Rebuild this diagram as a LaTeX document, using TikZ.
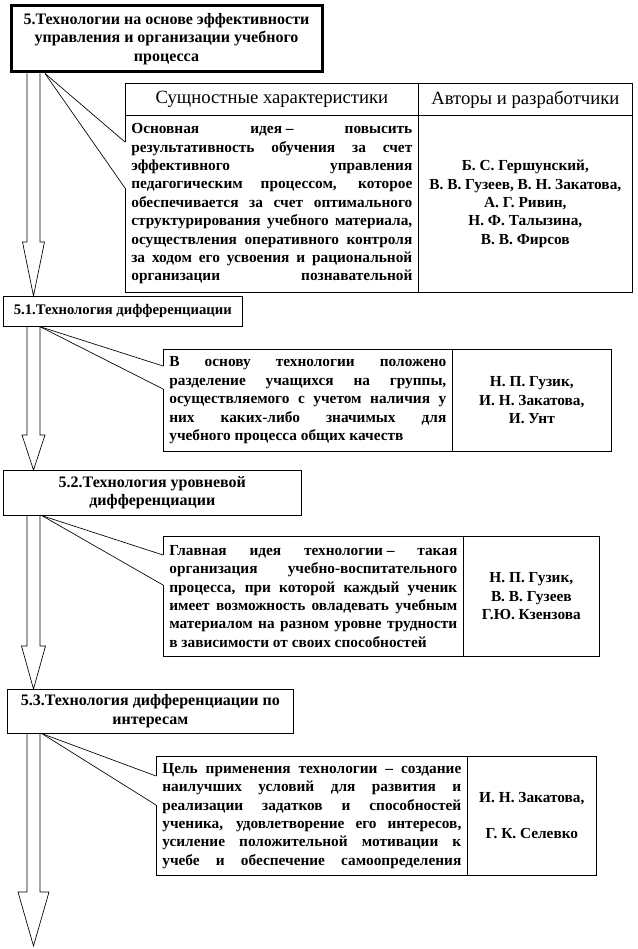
\documentclass[tikz,border=0pt]{standalone}
\usepackage{fontspec}
\setmainfont{Liberation Serif}
\usetikzlibrary{calc}

\begin{document}
\begin{tikzpicture}[x=0.75pt, y=-0.75pt, line width=0.5pt,
  techbox/.style={draw, align=center, anchor=north west, inner sep=0pt,
    font=\fontsize{12}{13.8}\selectfont\bfseries},
  headcell/.style={draw, anchor=north west, inner sep=0pt,
    font=\fontsize{14}{16}\selectfont},
  textcell/.style={draw, anchor=north west, inner xsep=4.5pt, inner ysep=0pt,
    align=justify, font=\fontsize{11.5}{13.8}\selectfont\bfseries},
  authcell/.style={draw, anchor=north west, inner sep=0pt, align=center,
    font=\fontsize{11.5}{13.8}\selectfont\bfseries},
  pointer/.style={draw, line width=0.5pt},
  arrowline/.style={draw, line width=0.5pt}]

\useasboundingbox (0,0) rectangle (637,949);

% block arrow: from, to, head length, head half width (all in px)
\def\blockarr#1#2#3#4{%
  \draw[arrowline] (27,0 |- #1) -- ($(27,0 |- #2)-(0,#3)$)
    -- ($(33.5-#4,0 |- #2)-(0,#3)$) -- (33.5,0 |- #2)
    -- ($(33.5+#4,0 |- #2)-(0,#3)$) -- ($(40,0 |- #2)-(0,#3)$)
    -- (40,0 |- #1);}

% 5. main technology
\node[techbox, line width=2.25pt, minimum width=233.25pt, minimum height=49.5pt] (b1) at (9.5,4.5)
  {5.Технологии на основе эффективности\\ управления и организации учебного\\ процесса};

\node[headcell, minimum width=219.75pt, minimum height=24pt] (t1h) at (125,83) {Сущностные характеристики};
\node[headcell, minimum width=160.5pt, minimum height=24pt] (t1a) at (418,83) {Авторы и разработчики};
\node[textcell, text width=210.75pt, minimum height=132.75pt] (t1l) at (125,115)
  {Основная \mbox{идея –} повысить\linebreak
   результативность обучения за счет\linebreak
   эффективного управления\linebreak
   педагогическим процессом, которое\linebreak
   обеспечивается за счет оптимального\linebreak
   структурирования учебного материала,\linebreak
   осуществления оперативного контроля\linebreak
   за ходом его усвоения и рациональной\linebreak
   организации познавательной\parfillskip=0pt\par};
\node[authcell, minimum width=160.5pt, minimum height=132.75pt] (t1r) at (418,115)
  {Б. С. Гершунский,\\ В. В. Гузеев, В. Н. Закатова,\\ А. Г. Ривин,\\ Н. Ф. Талызина,\\ В. В. Фирсов};

% 5.1
\node[techbox, font=\fontsize{11}{13.8}\selectfont\bfseries, minimum width=179.25pt, minimum height=22.5pt] (b2) at (3,296)
  {5.1.Технология дифференциации};
\node[textcell, text width=207.75pt, minimum height=76.5pt] (t2l) at (163,349)
  {В основу технологии положено\linebreak
   разделение учащихся на группы,\linebreak
   осуществляемого с учетом наличия у\linebreak
   них каких-либо значимых для\linebreak
   учебного процесса общих качеств};
\node[authcell, minimum width=119.25pt, minimum height=76.5pt] (t2r) at (452,349)
  {Н. П. Гузик,\\ И. Н. Закатова,\\ И. Унт};

% 5.2
\node[techbox, minimum width=223.5pt, minimum height=33.75pt] (b3) at (3,470)
  {5.2.Технология уровневой\\ дифференциации};
\node[textcell, text width=216pt, minimum height=90pt] (t3l) at (163,536)
  {Главная идея \mbox{технологии –} такая\linebreak
   организация учебно-воспитательного\linebreak
   процесса, при которой каждый ученик\linebreak
   имеет возможность овладевать учебным\linebreak
   материалом на разном уровне трудности\linebreak
   в зависимости от своих способностей};
\node[authcell, minimum width=102pt, minimum height=90pt] (t3r) at (463,536)
  {Н. П. Гузик,\\ В. В. Гузеев\\ Г.Ю. Кзензова};

% 5.3
\node[techbox, minimum width=214.5pt, minimum height=33pt] (b4) at (7,689)
  {5.3.Технология дифференциации по\\ интересам};
\node[textcell, text width=224.25pt, minimum height=89.25pt] (t4l) at (156,756)
  {Цель применения технологии – создание\linebreak
   наилучших условий для развития и\linebreak
   реализации задатков и способностей\linebreak
   ученика, удовлетворение его интересов,\linebreak
   усиление положительной мотивации к\linebreak
   учебе и обеспечение самоопределения\parfillskip=0pt\par};
\node[authcell, minimum width=96.75pt, minimum height=89.25pt] (t4r) at (467,756)
  {И. Н. Закатова,\\[13pt] Г. К. Селевко};

\coordinate (tip) at (33.5,946);

% arrows down the left side
\foreach \p/\q/\hl/\hw in {b1.south/b2.north/54/11, b2.south/b3.north/35/11.5,
  b3.south/b4.north/43/12, b4.south/tip/54/15.5}
  {\blockarr{\p}{\q}{\hl}{\hw}}

% callout wedges
\foreach \b/\c/\sx/\ya/\yb in {b1/t1l/45/142/188, b2/t2l/40/366/389,
  b3/t3l/42/555/585, b4/t4l/42/776/805}
{
  \draw[white, line width=1.5pt] (\c.west |- 0,\ya) -- (\c.west |- 0,\yb);
  \draw[pointer] (\sx,0 |- \b.south) -- (\c.west |- 0,\ya);
  \draw[pointer] (\sx,0 |- \b.south) -- (\c.west |- 0,\yb);
}

\end{tikzpicture}
\end{document}
